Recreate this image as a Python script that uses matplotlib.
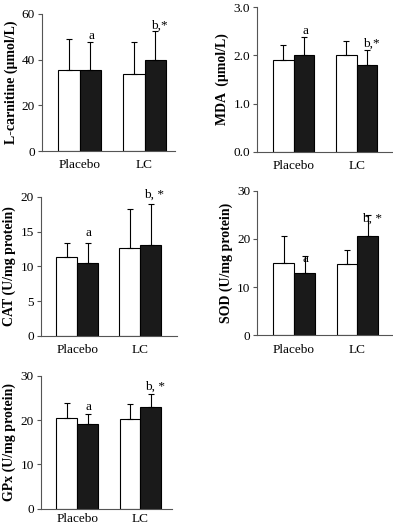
import numpy as np
import matplotlib
matplotlib.use("Agg")
from matplotlib import pyplot as plt

plt.rcParams['font.family'] = ['Liberation Serif', 'DejaVu Serif']

groups = ["Placebo", "LC"]

# mean values (white = before, black = after) and upper SD
lcar_white = [35.3, 33.6]
lcar_black = [35.3, 40.0]
lcar_white_sd = [13.7, 14.0]
lcar_black_sd = [12.3, 12.4]

mda_white = [1.90, 2.00]
mda_black = [2.00, 1.80]
mda_white_sd = [0.31, 0.31]
mda_black_sd = [0.39, 0.31]

cat_white = [11.4, 12.7]
cat_black = [10.5, 13.0]
cat_white_sd = [2.0, 5.5]
cat_black_sd = [2.9, 5.9]

sod_white = [14.9, 14.7]
sod_black = [12.9, 20.7]
sod_white_sd = [5.8, 2.9]
sod_black_sd = [3.6, 4.2]

gpx_white = [20.5, 20.3]
gpx_black = [19.1, 22.9]
gpx_white_sd = [3.4, 3.4]
gpx_black_sd = [2.2, 3.0]

W, H = 393, 528
fig = plt.figure(figsize=(W / 100, H / 100), dpi=100)


def make_axes(left, right, top, bottom):
    return fig.add_axes([left / W, 1 - bottom / H, (right - left) / W, (bottom - top) / H])


def panel(ax, white, black, wsd, bsd, ymax, step, label, fmt, mark_gap, xright, marks, xpad=6):
    x = np.arange(len(groups))
    w = 0.33
    ax.bar(x - w / 2, white, w, color="white", edgecolor="black", linewidth=0.8, zorder=2)
    ax.bar(x + w / 2, black, w, color="#1a1a1a", edgecolor="black", linewidth=0.8, zorder=2)
    ax.errorbar(x - w / 2, white, yerr=[np.zeros(2), wsd], fmt="none", ecolor="black",
                elinewidth=0.8, capsize=2.5, capthick=0.8, zorder=3)
    ax.errorbar(x + w / 2, black, yerr=[np.zeros(2), bsd], fmt="none", ecolor="black",
                elinewidth=0.8, capsize=2.5, capthick=0.8, zorder=3)
    for i in range(len(groups)):
        ax.text(x[i] + w / 2 + (0.02 if i == 0 else 0.06), black[i] + bsd[i] + mark_gap, marks[i],
                ha="center", va="bottom", fontsize=9.5)
    ax.set_xlim(-0.58, xright)
    ax.set_ylim(0, ymax)
    ax.set_yticks(np.arange(0, ymax + step / 2, step))
    ax.yaxis.set_major_formatter(matplotlib.ticker.FormatStrFormatter(fmt))
    ax.set_xticks(x)
    ax.set_xticklabels(groups)
    ax.tick_params(axis="x", length=0, pad=xpad, labelsize=9.5)
    ax.tick_params(axis="y", length=3, width=0.8, pad=2, labelsize=9.5, color="#555555")
    for s in ["top", "right"]:
        ax.spines[s].set_visible(False)
    for s in ["left", "bottom"]:
        ax.spines[s].set_linewidth(0.8)
        ax.spines[s].set_color("#555555")
    ax.set_ylabel(label, fontsize=10, fontweight="bold", labelpad=3)


ax1 = make_axes(42, 175, 14, 151)
panel(ax1, lcar_white, lcar_black, lcar_white_sd, lcar_black_sd, 60, 20,
      "L-carnitine (\u03bcmol/L)", "%d", 0.0, 1.47, ["a", "b,*"])

ax2 = make_axes(257, 392, 7.3, 151.7)
panel(ax2, mda_white, mda_black, mda_white_sd, mda_black_sd, 3.0, 1.0,
      "MDA  (\u03bcmol/L)", "%.1f", 0.0, 1.56, ["a", "b,*"])

ax3 = make_axes(40.7, 176.7, 196.7, 336)
panel(ax3, cat_white, cat_black, cat_white_sd, cat_black_sd, 20, 5,
      "CAT (U/mg protein)", "%d", 0.5, 1.58, ["a", "b, *"])

ax4 = make_axes(257.3, 393, 190.7, 335.3)
panel(ax4, sod_white, sod_black, sod_white_sd, sod_black_sd, 30, 10,
      "SOD (U/mg protein)", "%d", -2.0, 1.56, ["a", "b, *"])

ax5 = make_axes(40.7, 172, 376, 508.5)
panel(ax5, gpx_white, gpx_black, gpx_white_sd, gpx_black_sd, 30, 10,
      "GPx (U/mg protein)", "%d", 0.4, 1.50, ["a", "b, *"], xpad=3)

fig.savefig("out.png", dpi=100)
